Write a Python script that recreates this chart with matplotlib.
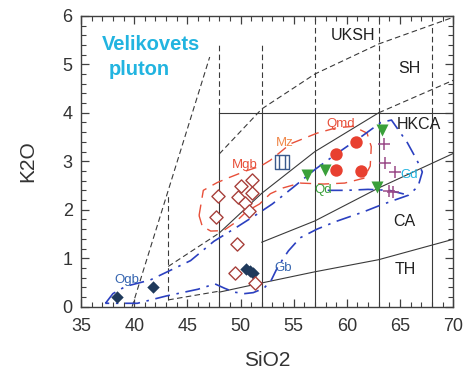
import matplotlib
matplotlib.use("Agg")
import matplotlib.pyplot as plt
from matplotlib.path import Path
import numpy as np

plt.rcParams['font.family'] = ['Liberation Sans', 'DejaVu Sans']

# ---------------- data ----------------
# Classification boundaries (SiO2, K2O)
th_ca_x = [48, 52, 57, 63, 70]
th_ca_y = [0.30, 0.49, 0.72, 0.97, 1.39]
th_ca_ext_x = [43.2, 48]
th_ca_ext_y = [0.14, 0.32]
ca_hkca_x = [52, 57, 63, 70]
ca_hkca_y = [1.33, 1.77, 2.45, 3.16]
hkca_sh_x = [48, 52, 57, 63]
hkca_sh_y = [1.52, 2.34, 3.20, 4.00]
hkca_sh_ext_x = [43.2, 48]
hkca_sh_ext_y = [0.83, 1.52]
sh_ext_x = [63, 70]
sh_ext_y = [4.00, 4.67]
uksh_x = [48, 52, 57, 63, 70]
uksh_y = [3.15, 4.08, 4.80, 5.42, 5.97]
steep_x = [39.8, 47.1]
steep_y = [0.00, 5.15]
box_top_x = [48, 70]
box_top_y = [4.0, 4.0]
solid_verticals = [48, 52, 57, 63, 68]
dashed_vert_short = [48, 52]
dashed_vert_full = [57, 63]
dashed_vert_68_top = 5.8
dashed_vert_43 = (43.2, 0.14, 2.3)

# Samples
ogb_x = [38.4, 41.8, 50.5, 50.9, 51.2]
ogb_y = [0.20, 0.40, 0.77, 0.74, 0.70]
mgb_x = [47.9, 47.7, 50.0, 51.1, 49.8, 51.1, 50.4, 50.8, 49.7, 49.5, 51.4]
mgb_y = [2.28, 1.86, 2.49, 2.62, 2.27, 2.35, 2.13, 1.97, 1.29, 0.69, 0.48]
mz_x = [53.9]
mz_y = [2.99]
qmd_x = [59.0, 59.0, 60.9, 61.3]
qmd_y = [3.15, 2.82, 3.40, 2.79]
qd_x = [56.3, 57.9, 63.3, 62.8]
qd_y = [2.72, 2.82, 3.65, 2.47]
gd_x = [63.5, 63.6, 64.5, 64.0, 64.3]
gd_y = [3.36, 2.97, 2.78, 2.38, 2.36]

# Field contours
red_cont_x = [46.1, 46.5, 47.8, 49.0, 50.5, 51.9, 52.8, 54.7, 57.2, 59.0, 60.6,
              61.9, 62.3, 62.2, 61.6, 59.8, 57.8, 55.6, 54.0, 52.8, 51.8, 50.6,
              49.4, 48.4, 47.2, 46.4, 46.1]
red_cont_y = [1.88, 2.40, 2.56, 2.67, 2.80, 2.90, 3.02, 3.36, 3.58, 3.69, 3.72,
              3.58, 3.30, 2.90, 2.65, 2.55, 2.53, 2.55, 2.45, 2.33, 2.12, 1.97,
              1.72, 1.57, 1.56, 1.66, 1.88]
blue_cont_x = [37.3, 38.0, 39.2, 41.5, 43.4, 45.3, 47.5, 49.5, 51.5, 53.0, 55.0,
               57.0, 59.0, 61.5, 63.2, 64.2, 65.7, 66.6, 67.1, 66.7, 65.8, 64.5,
               63.0, 61.5, 59.0, 57.2, 55.6, 54.5, 53.5, 52.9, 52.2, 51.2, 50.4,
               49.4, 48.5, 47.6, 46.0, 43.0, 40.3, 37.3]
blue_cont_y = [0.07, 0.27, 0.42, 0.55, 0.75, 0.95, 1.35, 1.62, 1.90, 2.12, 2.47,
               2.83, 3.15, 3.53, 3.80, 3.85, 3.38, 3.02, 2.78, 2.48, 2.30, 2.20,
               2.08, 1.95, 1.76, 1.60, 1.42, 1.15, 0.82, 0.55, 0.38, 0.29, 0.27,
               0.30, 0.38, 0.47, 0.36, 0.22, 0.07, 0.07]
gd_sep_x = [58.2, 60.0, 62.0, 64.0, 65.8]
gd_sep_y = [2.40, 2.40, 2.42, 2.40, 2.30]

labels = [("UKSH", 60.6, 5.6), ("SH", 65.9, 4.92), ("HKCA", 66.8, 3.75),
          ("CA", 65.4, 1.75), ("TH", 65.5, 0.76)]
rock_labels = [("Mgb", 50.4, 2.92, '#e8503a'), ("Mz", 54.2, 3.38, '#f0884a'),
               ("Qmd", 59.4, 3.77, '#e8503a'), ("Qd", 57.75, 2.41, '#3aa03a'),
               ("Gd", 65.9, 2.72, '#22b4e0'), ("Gb", 54.05, 0.79, '#3565b0'),
               ("Ogb", 39.3, 0.55, '#3565b0')]

# ---------------- plot ----------------
fig = plt.figure(figsize=(4.74, 3.77), dpi=100)
ax = fig.add_axes([0.171, 0.1865, 0.785, 0.7715])
ax.set_xlim(35, 70)
ax.set_ylim(0, 6)

lc = '#3a3a3a'
lw = 0.8
dash = (0, (5, 3))

for xv in solid_verticals:
    ax.plot([xv, xv], [0, 4], color=lc, lw=lw)
for xv in dashed_vert_short:
    ax.plot([xv, xv], [4.0, 5.43], color=lc, lw=lw, ls=dash)
for xv in dashed_vert_full:
    ax.plot([xv, xv], [4.0, 6.0], color=lc, lw=lw, ls=dash)
ax.plot([68, 68], [4.0, dashed_vert_68_top], color=lc, lw=lw, ls=dash)
ax.plot([dashed_vert_43[0]] * 2, dashed_vert_43[1:], color=lc, lw=lw, ls=dash)

ax.plot(box_top_x, box_top_y, color=lc, lw=lw)
ax.plot(th_ca_x, th_ca_y, color=lc, lw=lw)
ax.plot(ca_hkca_x, ca_hkca_y, color=lc, lw=lw)
ax.plot(hkca_sh_x, hkca_sh_y, color=lc, lw=lw)
ax.plot(th_ca_ext_x, th_ca_ext_y, color=lc, lw=lw, ls=dash)
ax.plot(hkca_sh_ext_x, hkca_sh_ext_y, color=lc, lw=lw, ls=dash)
ax.plot(sh_ext_x, sh_ext_y, color=lc, lw=lw, ls=dash)
ax.plot(uksh_x, uksh_y, color=lc, lw=lw, ls=dash)
ax.plot(steep_x, steep_y, color=lc, lw=lw, ls=dash)

# contours
ax.plot(red_cont_x, red_cont_y, color='#e8503a', lw=1.0, ls=(0, (8, 5)))
ax.plot(blue_cont_x, blue_cont_y, color='#2b40c0', lw=1.2, ls=(0, (9, 4, 1.5, 4)))
ax.plot(gd_sep_x, gd_sep_y, color='#2b40c0', lw=1.2, ls=(0, (9, 4, 1.5, 4)))

# markers
ax.scatter(ogb_x, ogb_y, marker='D', s=40, color='#1f3a5c', zorder=5, lw=0)
ax.scatter(mgb_x, mgb_y, marker='D', s=45, facecolor='white',
           edgecolor='#a8403c', lw=1.0, zorder=5)
mz_marker = Path([(-1, -1), (1, -1), (1, 1), (-1, 1), (-1, -1),
                  (-0.4, -1), (-0.4, 1), (0.4, -1), (0.4, 1)],
                 [Path.MOVETO, Path.LINETO, Path.LINETO, Path.LINETO, Path.CLOSEPOLY,
                  Path.MOVETO, Path.LINETO, Path.MOVETO, Path.LINETO])
ax.scatter(mz_x, mz_y, marker=mz_marker, s=100, facecolor='none',
           edgecolor='#3a5a8c', lw=1.0, zorder=5)
ax.scatter(qmd_x, qmd_y, marker='o', s=80, color='#e84030', zorder=5, lw=0)
ax.scatter(qd_x, qd_y, marker='v', s=75, color='#3aa03a', zorder=6, lw=0)
ax.scatter(gd_x, gd_y, marker='+', s=65, color='#9a4a88', lw=1.1, zorder=6)

# texts
ax.text(37.0, 5.40, "Velikovets", color='#22b4e0', fontsize=14.5,
        fontweight='bold', ha='left', va='center')
ax.text(37.6, 4.90, "pluton", color='#22b4e0', fontsize=14.5,
        fontweight='bold', ha='left', va='center')
for t, x, y in labels:
    ax.text(x, y, t, fontsize=11.5, color='#202020', ha='center', va='center')
for t, x, y, c in rock_labels:
    ax.text(x, y, t, fontsize=9.5, color=c, ha='center', va='center', zorder=7)

# axes styling
ax.set_xticks(np.arange(35, 71, 5))
ax.set_xticks(np.arange(35, 71, 1), minor=True)
ax.set_yticks(np.arange(0, 7, 1))
ax.set_yticks(np.arange(0, 6.01, 0.2), minor=True)
ax.tick_params(which='both', direction='in', top=True, right=True,
               colors='#404040', labelcolor='#333333', labelsize=13)
ax.tick_params(which='major', length=6, width=0.9)
ax.tick_params(which='minor', length=3.5, width=0.8)
ax.tick_params(axis='x', which='major', pad=8)
ax.tick_params(axis='y', which='major', pad=6)
for sp in ax.spines.values():
    sp.set_color('#404040')
    sp.set_linewidth(1.0)
ax.set_xlabel("SiO2", fontsize=15, color='#333333', labelpad=12)
ax.set_ylabel("K2O", fontsize=15, color='#333333', labelpad=18)

fig.savefig("out.png", dpi=100)
